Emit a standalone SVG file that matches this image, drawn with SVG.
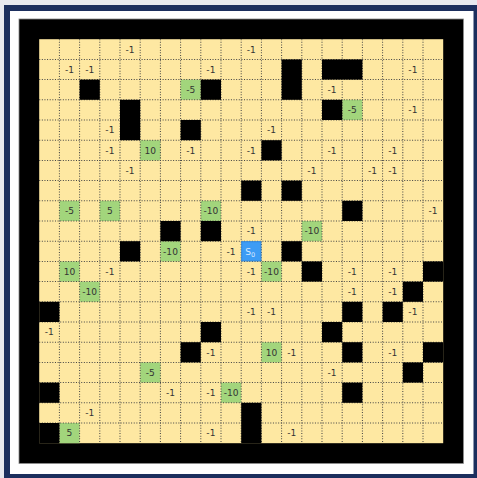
<svg xmlns="http://www.w3.org/2000/svg" width="477" height="478" viewBox="0 0 477 478">
<style>
.t{font-family:"DejaVu Sans",sans-serif;font-size:9px;fill:#333;text-anchor:middle}
.w{fill:#000}
.g{fill:#a2d57c}
.gl{stroke:#444;stroke-width:1;stroke-dasharray:1 1.6;fill:none}
</style>
<rect x="0" y="0" width="477" height="478" fill="#e8e9ef"/>
<rect x="4" y="5" width="473" height="473" fill="#1c2f5e"/>
<rect x="10" y="11" width="463.5" height="463" fill="#fff"/>
<g transform="translate(19,19) scale(1.01)">
<rect x="0" y="0" width="440" height="440" fill="#000" stroke="#888" stroke-width="0.8"/>
<rect x="20" y="20" width="400" height="400" fill="#fee8a2"/>
<g id="rewards">
<rect class="g" x="160" y="60" width="20" height="20"/>
<rect class="g" x="320" y="80" width="20" height="20"/>
<rect class="g" x="120" y="120" width="20" height="20"/>
<rect class="g" x="40" y="180" width="20" height="20"/>
<rect class="g" x="80" y="180" width="20" height="20"/>
<rect class="g" x="180" y="180" width="20" height="20"/>
<rect class="g" x="280" y="200" width="20" height="20"/>
<rect class="g" x="140" y="220" width="20" height="20"/>
<rect class="g" x="40" y="240" width="20" height="20"/>
<rect class="g" x="240" y="240" width="20" height="20"/>
<rect class="g" x="60" y="260" width="20" height="20"/>
<rect class="g" x="240" y="320" width="20" height="20"/>
<rect class="g" x="120" y="340" width="20" height="20"/>
<rect class="g" x="200" y="360" width="20" height="20"/>
<rect class="g" x="40" y="400" width="20" height="20"/>
</g>
<g id="gridlines" class="gl">
<path d="M40 20V420M60 20V420M80 20V420M100 20V420M120 20V420M140 20V420M160 20V420M180 20V420M200 20V420M220 20V420M240 20V420M260 20V420M280 20V420M300 20V420M320 20V420M340 20V420M360 20V420M380 20V420M400 20V420"/>
<path d="M20 40H420M20 60H420M20 80H420M20 100H420M20 120H420M20 140H420M20 160H420M20 180H420M20 200H420M20 220H420M20 240H420M20 260H420M20 280H420M20 300H420M20 320H420M20 340H420M20 360H420M20 380H420M20 400H420"/>
</g>
<g id="walls">
<rect class="w" x="260" y="40" width="20" height="40"/>
<rect class="w" x="300" y="40" width="40" height="20"/>
<rect class="w" x="60" y="60" width="20" height="20"/>
<rect class="w" x="180" y="60" width="20" height="20"/>
<rect class="w" x="100" y="80" width="20" height="40"/>
<rect class="w" x="300" y="80" width="20" height="20"/>
<rect class="w" x="160" y="100" width="20" height="20"/>
<rect class="w" x="240" y="120" width="20" height="20"/>
<rect class="w" x="220" y="160" width="20" height="20"/>
<rect class="w" x="260" y="160" width="20" height="20"/>
<rect class="w" x="320" y="180" width="20" height="20"/>
<rect class="w" x="140" y="200" width="20" height="20"/>
<rect class="w" x="180" y="200" width="20" height="20"/>
<rect class="w" x="100" y="220" width="20" height="20"/>
<rect class="w" x="260" y="220" width="20" height="20"/>
<rect class="w" x="280" y="240" width="20" height="20"/>
<rect class="w" x="400" y="240" width="20" height="20"/>
<rect class="w" x="380" y="260" width="20" height="20"/>
<rect class="w" x="20" y="280" width="20" height="20"/>
<rect class="w" x="320" y="280" width="20" height="20"/>
<rect class="w" x="360" y="280" width="20" height="20"/>
<rect class="w" x="180" y="300" width="20" height="20"/>
<rect class="w" x="300" y="300" width="20" height="20"/>
<rect class="w" x="160" y="320" width="20" height="20"/>
<rect class="w" x="320" y="320" width="20" height="20"/>
<rect class="w" x="400" y="320" width="20" height="20"/>
<rect class="w" x="380" y="340" width="20" height="20"/>
<rect class="w" x="20" y="360" width="20" height="20"/>
<rect class="w" x="320" y="360" width="20" height="20"/>
<rect class="w" x="220" y="380" width="20" height="40"/>
<rect class="w" x="20" y="400" width="20" height="20"/>
</g>
<g id="start">
<rect x="220.5" y="220.5" width="19" height="19" fill="#3d9cf5" stroke="#2b86e0" stroke-width="1"/>
<text x="229" y="233.3" font-family="DejaVu Sans,sans-serif" font-size="9" fill="#d6e8ff" text-anchor="middle">S<tspan font-size="6.5" dy="2">0</tspan></text>
</g>
<g id="labels" class="t">
<text x="110" y="33.3">-1</text><text x="230" y="33.3">-1</text>
<text x="50" y="53.3">-1</text><text x="70" y="53.3">-1</text><text x="190" y="53.3">-1</text><text x="390" y="53.3">-1</text>
<text x="170" y="73.3">-5</text><text x="310" y="73.3">-1</text>
<text x="330" y="93.3">-5</text><text x="390" y="93.3">-1</text>
<text x="90" y="113.3">-1</text><text x="250" y="113.3">-1</text>
<text x="90" y="133.3">-1</text><text x="130" y="133.3">10</text><text x="170" y="133.3">-1</text><text x="230" y="133.3">-1</text><text x="310" y="133.3">-1</text><text x="370" y="133.3">-1</text>
<text x="110" y="153.3">-1</text><text x="290" y="153.3">-1</text><text x="350" y="153.3">-1</text><text x="370" y="153.3">-1</text>
<text x="50" y="193.3">-5</text><text x="90" y="193.3">5</text><text x="190" y="193.3">-10</text><text x="410" y="193.3">-1</text>
<text x="230" y="213.3">-1</text><text x="290" y="213.3">-10</text>
<text x="150" y="233.3">-10</text><text x="210" y="233.3">-1</text>
<text x="50" y="253.3">10</text><text x="90" y="253.3">-1</text><text x="230" y="253.3">-1</text><text x="250" y="253.3">-10</text><text x="330" y="253.3">-1</text><text x="370" y="253.3">-1</text>
<text x="70" y="273.3">-10</text><text x="330" y="273.3">-1</text><text x="370" y="273.3">-1</text>
<text x="230" y="293.3">-1</text><text x="250" y="293.3">-1</text><text x="390" y="293.3">-1</text>
<text x="30" y="313.3">-1</text>
<text x="190" y="333.3">-1</text><text x="250" y="333.3">10</text><text x="270" y="333.3">-1</text><text x="370" y="333.3">-1</text>
<text x="130" y="353.3">-5</text><text x="310" y="353.3">-1</text>
<text x="150" y="373.3">-1</text><text x="190" y="373.3">-1</text><text x="210" y="373.3">-10</text>
<text x="70" y="393.3">-1</text>
<text x="50" y="413.3">5</text><text x="190" y="413.3">-1</text><text x="270" y="413.3">-1</text>
</g>
</g>
</svg>
